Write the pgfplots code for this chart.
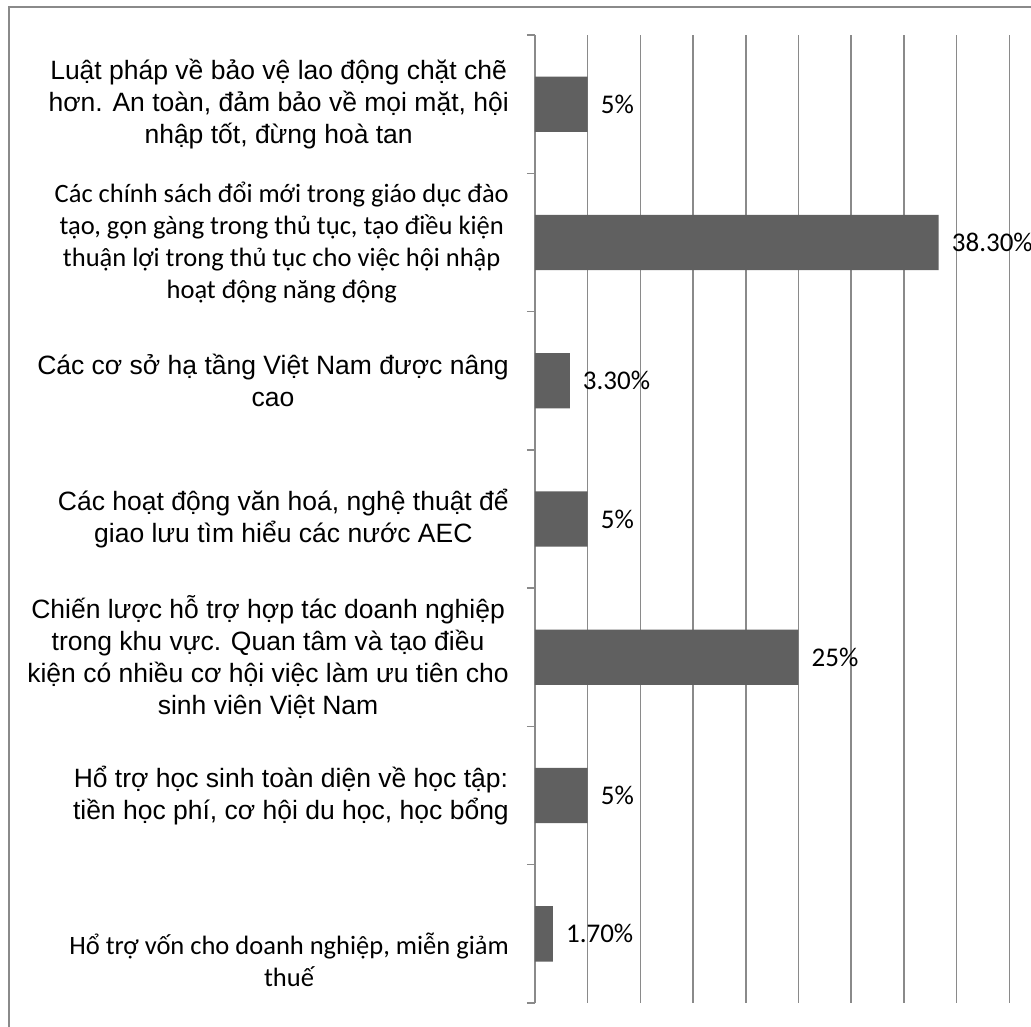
\documentclass[border=0pt]{standalone}
\usepackage{fontspec}
\usepackage{pgfplots}
\pgfplotsset{compat=1.18}
\setmainfont{Carlito}
\newfontfamily\arial{Liberation Sans}
\newfontfamily\calibri{Carlito}
\definecolor{barfill}{HTML}{606060}
\definecolor{rulegray}{HTML}{8A8A8A}

% centred multi-line category labels with a fixed 32pt baseline step
\newcommand\linesA[1]{\vbox{\baselineskip=32pt\lineskiplimit=-100pt
  \halign{\hfil\arial##\hfil\cr#1\crcr}}}
\newcommand\linesC[1]{\vbox{\baselineskip=32pt\lineskiplimit=-100pt
  \halign{\hfil\calibri##\hfil\cr#1\crcr}}}

\begin{document}
\begin{tikzpicture}[x=1pt,y=1pt]
  % page area and outer frame
  \fill[white] (0,0) rectangle (1031,-1026);
  \useasboundingbox (0,0) rectangle (1031,-1026);
  \draw[rulegray, line width=2pt] (8.5,-1040) -- (8.5,-7) -- (1045,-7);

  \begin{axis}[
    scale only axis,
    width=474.3pt, height=968pt,
    at={(535pt,-35pt)}, anchor=north west,
    xmin=0, xmax=45, ymin=0.5, ymax=7.5,
    y dir=reverse,
    axis line style={draw=none},
    xtick={0,5,...,45}, xticklabels={},
    xmajorgrids,
    major x grid style={rulegray, line width=1.5pt},
    x tick style={draw=none},
    ytick={1,...,7},
    minor ytick={0.5,1.5,...,7.5},
    ytick pos=left, tick align=outside,
    major tick length=0pt, minor tick length=8pt,
    minor y tick style={rulegray, line width=1.5pt},
    yticklabel style={inner sep=0pt, xshift=-26pt,
      font=\arial\fontsize{26.5pt}{32pt}\selectfont},
    yticklabels={
      {\linesA{Luật pháp về bảo vệ lao động chặt chẽ\cr hơn. An toàn, đảm bảo về mọi mặt, hội\cr nhập tốt, đừng hoà tan}},
      {\linesC{Các chính sách đổi mới trong giáo dục đào\cr tạo, gọn gàng trong thủ tục, tạo điều kiện\cr thuận lợi trong thủ tục cho việc hội nhập\cr hoạt động năng động}},
      {\linesA{Các cơ sở hạ tầng Việt Nam được nâng\cr cao}},
      {\linesA{Các hoạt động văn hoá, nghệ thuật để\cr giao lưu tìm hiểu các nước AEC}},
      {\linesA{Chiến lược hỗ trợ hợp tác doanh nghiệp\cr trong khu vực. Quan tâm và tạo điều\cr kiện có nhiều cơ hội việc làm ưu tiên cho\cr sinh viên Việt Nam}},
      {\linesA{Hổ trợ học sinh toàn diện về học tập:\cr tiền học phí, cơ hội du học, học bổng}},
      {\raisebox{-26pt}[\height][\depth]{\linesC{Hổ trợ vốn cho doanh nghiệp, miễn giảm\cr thuế}}}
    },
    clip=false,
  ]
    \addplot[xbar, bar width=0.4, fill=barfill, draw=none,
      point meta=explicit symbolic,
      nodes near coords,
      nodes near coords style={anchor=west, inner sep=0pt, xshift=13pt,
        font=\calibri\fontsize{27pt}{32pt}\selectfont, text=black}]
    coordinates {
      (5,1) [5\%]
      (38.3,2) [38.30\%]
      (3.3,3) [3.30\%]
      (5,4) [5\%]
      (25,5) [25\%]
      (5,6) [5\%]
      (1.7,7) [1.70\%]
    };
  \end{axis}
\end{tikzpicture}
\end{document}
